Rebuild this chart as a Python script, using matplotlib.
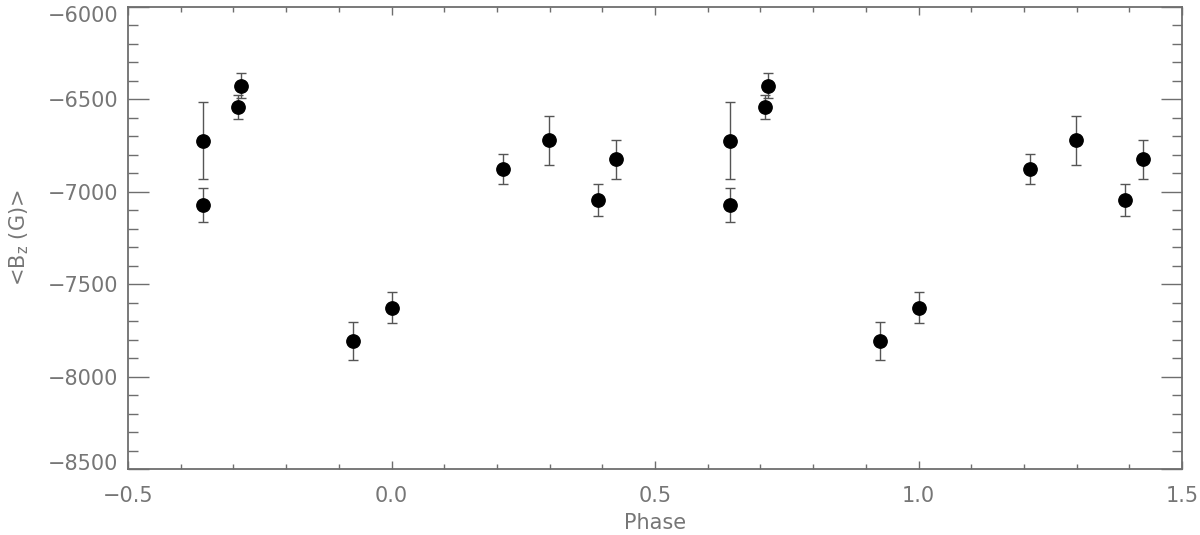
import matplotlib
matplotlib.use('Agg')
import matplotlib.pyplot as plt
import matplotlib.transforms as mtransforms
import numpy as np
from matplotlib.ticker import MultipleLocator

# rotational phase of each measurement (one cycle) and its <Bz> with error
phase = [0.000, 0.211, 0.299, 0.391, 0.426, 0.643, 0.643, 0.709, 0.714, 0.926]
bz = [-7627, -6876, -6722, -7045, -6825, -6724, -7070, -6542, -6426, -7807]
bz_err = [85, 81, 134, 86, 104, 208, 92, 66, 68, 101]

# the curve is shown over two cycles: phase-1, phase, phase+1
cycles = [-1, 0, 1]

fig = plt.figure(figsize=(12, 5.35), dpi=100)
ax = fig.add_axes([0.1067, 0.1234, 0.8783, 0.8635])

grey = '#767676'
for c in cycles:
    x = np.array(phase) + c
    ax.errorbar(x, bz, yerr=bz_err, fmt='o', color='black', ms=9.6,
                ecolor='#555555', elinewidth=1.0, capsize=3.3, capthick=1.0,
                zorder=3)

ax.set_xlim(-0.5, 1.5)
ax.set_ylim(-8500, -6000)

ax.xaxis.set_major_locator(MultipleLocator(0.5))
ax.xaxis.set_minor_locator(MultipleLocator(0.1))
ax.yaxis.set_major_locator(MultipleLocator(500))
ax.yaxis.set_minor_locator(MultipleLocator(100))
ax.xaxis.set_major_formatter(plt.FuncFormatter(lambda v, p: f"{v:.1f}".replace('-', '\u2212')))
ax.yaxis.set_major_formatter(plt.FuncFormatter(lambda v, p: f"{v:.0f}".replace('-', '\u2212')))

ax.tick_params(axis='both', which='both', direction='in', top=True, right=True,
               color='#6e6e6e', labelcolor=grey, labelsize=15)
ax.tick_params(axis='x', which='major', length=6, width=1.0, pad=12)
ax.tick_params(axis='x', which='minor', length=3.6, width=1.0)
ax.tick_params(axis='y', which='major', length=15, width=1.0, pad=7)
ax.tick_params(axis='y', which='minor', length=7.2, width=1.0)

for s in ax.spines.values():
    s.set_color('#6e6e6e')
    s.set_linewidth(1.3)

# end labels pulled slightly inward, like the original
shift_down = mtransforms.ScaledTranslation(0, -7 / 100, fig.dpi_scale_trans)
shift_up = mtransforms.ScaledTranslation(0, 7 / 100, fig.dpi_scale_trans)
fig.canvas.draw()
for lab in ax.get_yticklabels():
    if lab.get_text() == '\u22126000':
        lab.set_transform(lab.get_transform() + shift_down)
    elif lab.get_text() == '\u22128500':
        lab.set_transform(lab.get_transform() + shift_up)

ax.set_xlabel('Phase', fontsize=15, color=grey, labelpad=5)
ax.set_ylabel(r'<B$_\mathregular{z}$ (G)>', fontsize=15, color=grey, labelpad=12)

fig.savefig('out.png', dpi=100)
